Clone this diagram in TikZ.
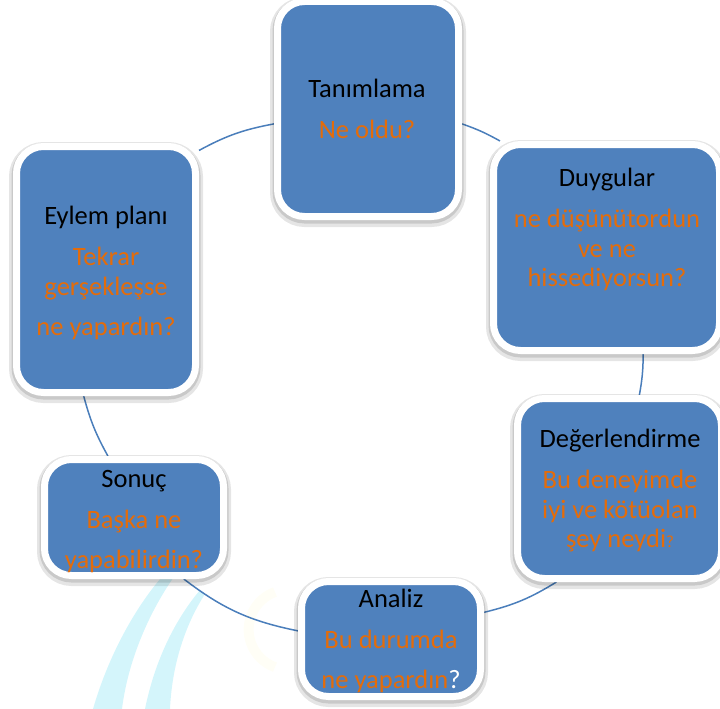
\documentclass[tikz,border=0pt]{standalone}
\usepackage{fontspec}
\setmainfont{Carlito}
\usetikzlibrary{shadows}
\definecolor{boxblue}{HTML}{4F81BD}
\definecolor{linkblue}{HTML}{4A7EBB}
\definecolor{askorange}{HTML}{E46C0A}
\definecolor{swoosh}{RGB}{212,245,251}
\definecolor{ringyellow}{RGB}{255,254,246}
\newcommand{\ask}[1]{\textcolor{askorange}{#1}}
\pgfdeclarelayer{background}
\pgfsetlayers{background,main}

\begin{document}
\begin{tikzpicture}[x=1pt, y=1pt,
   stepbox/.style={draw=white, line width=7pt, fill=boxblue, rounded corners=27pt, inner sep=0pt,
     drop shadow={shadow xshift=0pt, shadow yshift=-3pt, opacity=0.10, fill=black, draw=black, line width=15pt},
     drop shadow={shadow xshift=0pt, shadow yshift=-2pt, opacity=0.12, fill=black, draw=black, line width=10pt}},
   txt/.style={anchor=north, inner sep=0pt, align=center, font=\fontsize{26.5}{29.5}\selectfont},
   link/.style={draw=linkblue, line width=1.5pt}]
   \useasboundingbox (0,0) rectangle (720,-709);

   \node[stepbox, minimum width=181, minimum height=215] (tan) at (368,-109) {};
   \node[stepbox, minimum width=226, minimum height=206] (duy) at (606.5,-247.5) {};
   \node[stepbox, minimum width=204, minimum height=180] (deg) at (619.5,-488.5) {};
   \node[stepbox, minimum width=179, minimum height=115] (ana) at (391,-639) {};
   \node[stepbox, minimum width=179, minimum height=116] (son) at (134,-517.5) {};
   \node[stepbox, minimum width=179, minimum height=246] (eyl) at (106,-269.5) {};

   \node[txt] (tanT) at (367,-79) {Tanımlama\\[11.5pt]\ask{Ne oldu?}};
   \node[txt] (duyT) at (607,-168) {Duygular\\[11.5pt]\ask{ne düşünütordun}\\\ask{ve ne}\\\ask{hissediyorsun?}};
   \node[txt] (degT) at (620,-429) {Değerlendirme\\[11.5pt]\ask{Bu deneyimde}\\\ask{iyi ve kötüolan}\\\ask{şey neydi}{\fontsize{17}{17}\selectfont\ask{?}}};
   \node[txt] (anaT) at (391,-589) {Analiz\\[11.5pt]\ask{Bu durumda}\\[10.5pt]\ask{ne yapardın}\textcolor{white}{?}};
   \node[txt] (sonT) at (134,-470) {Sonuç\\[11.5pt]\ask{Başka ne}\\[10.5pt]\ask{yapabilirdin?}};
   \node[txt] (eylT) at (106,-206) {Eylem planı\\[11.5pt]\ask{Tekrar}\\\ask{gerşekleşse}\\[10.5pt]\ask{ne yapardın?}};

   \begin{pgfonlayer}{background}
   % faint logo behind the cycle
   \fill[swoosh] (93,-709) .. controls (110,-650) and (140,-600) .. (168,-570)
      -- (176,-574) .. controls (150,-610) and (128,-660) .. (122,-709) -- cycle;
   \fill[swoosh] (145,-709) .. controls (155,-660) and (175,-620) .. (200,-590)
      -- (205,-594) .. controls (185,-625) and (172,-665) .. (170,-709) -- cycle;
   \draw[ringyellow, line width=10pt] (275,-592) arc (110:250:40);

   \path[link]
    (tan.351) edge [bend left=5] (duy.135)
    (duy.289) edge [bend left=5] (deg.78)
    (deg.236) edge [bend left=9] (ana.16)
    (ana.175) edge [bend left=13] (son.309)
    (son.113) edge [bend left=7] (eyl.260)
    (eyl.52) edge [bend left=9] (tan.189);
   \end{pgfonlayer}
\end{tikzpicture}
\end{document}
